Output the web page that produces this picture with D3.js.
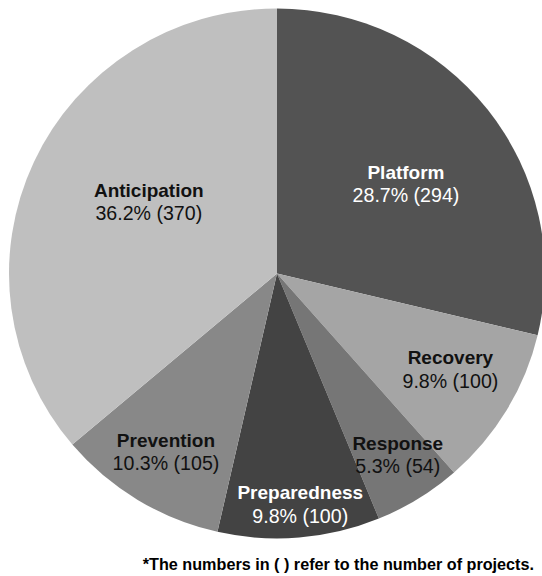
<!DOCTYPE html>
<html>
<head>
<meta charset="utf-8">
<script src="https://cdn.jsdelivr.net/npm/d3@7"></script>
<style>
  html, body { margin: 0; padding: 0; background: #ffffff; }
  svg { display: block; }
  text { font-family: "Liberation Sans", Arial, sans-serif; }
</style>
</head>
<body>
<svg id="chart" width="542" height="576"></svg>
<script>
// Project areas, in clockwise order starting from 12 o'clock
const categories = ["Platform", "Recovery", "Response", "Preparedness", "Prevention", "Anticipation"];
const projectCounts = [294, 100, 54, 100, 105, 370];
const shareLabels = ["28.7%", "9.8%", "5.3%", "9.8%", "10.3%", "36.2%"];
const footnote = "*The numbers in ( ) refer to the number of projects.";

// Styling and layout
const sliceFill = {
  Platform: "#535353",
  Recovery: "#a5a5a5",
  Response: "#767676",
  Preparedness: "#434343",
  Prevention: "#888888",
  Anticipation: "#bfbfbf"
};
const labelFill = {
  Platform: "#ffffff",
  Preparedness: "#ffffff"
};
// label anchor: distance from centre and a small angular nudge (degrees)
const labelPlacement = {
  Platform: { r: 157, da: 3.5 },
  Recovery: { r: 198, da: -2.2 },
  Response: { r: 218, da: -1.8 },
  Preparedness: { r: 232, da: -1.0 },
  Prevention: { r: 210, da: 0.6 },
  Anticipation: { r: 147, da: 4.4 }
};

const cx = 277, cy = 273.5;
const rx = 268, ry = 265;

const svg = d3.select("#chart");

const rows = categories.map((c, i) => ({ name: c, value: projectCounts[i], share: shareLabels[i] }));

const pie = d3.pie().sort(null).value(d => d.value);
const arcs = pie(rows);

const arc = d3.arc().innerRadius(0).outerRadius(ry);

// slightly wider than tall
const pieG = svg.append("g")
  .attr("transform", `translate(${cx},${cy}) scale(${rx / ry},1)`);

pieG.selectAll("path")
  .data(arcs)
  .join("path")
  .attr("d", arc)
  .attr("fill", d => sliceFill[d.data.name]);

const labelG = svg.append("g").attr("transform", `translate(${cx},${cy})`);

// one text block per slice: bold name, then share and count underneath
const labels = labelG.selectAll("text.label")
  .data(arcs)
  .join("text")
  .attr("class", "label")
  .attr("text-anchor", "middle")
  .attr("fill", d => labelFill[d.data.name] || "#111111")
  .attr("transform", d => {
    const p = labelPlacement[d.data.name];
    const a = (d.startAngle + d.endAngle) / 2 + p.da * Math.PI / 180;
    const x = Math.sin(a) * p.r;
    const y = -Math.cos(a) * p.r;
    return `translate(${x},${y})`;
  });

labels.append("tspan")
  .attr("x", 0)
  .attr("y", -5)
  .attr("font-size", 19)
  .attr("font-weight", 700)
  .text(d => d.data.name);

labels.append("tspan")
  .attr("x", 0)
  .attr("y", 18.5)
  .attr("font-size", 19.6)
  .attr("font-weight", 400)
  .text(d => `${d.data.share} (${d.data.value})`);

svg.append("text")
  .attr("x", 534)
  .attr("y", 570)
  .attr("text-anchor", "end")
  .attr("font-size", 16.2)
  .attr("font-weight", 700)
  .attr("fill", "#000000")
  .text(footnote);
</script>
</body>
</html>
